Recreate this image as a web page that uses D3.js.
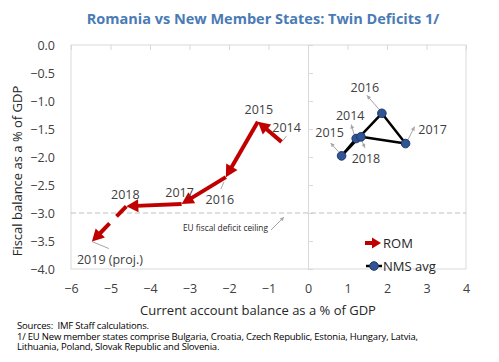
<!DOCTYPE html>
<html>
<head>
<meta charset="utf-8">
<script src="https://cdn.jsdelivr.net/npm/d3@7"></script>
<style>
  html, body { margin: 0; padding: 0; background: #fff; }
  #wrap { position: relative; width: 499px; height: 362px; }
  svg { display: block; }
  text { font-family: "Open Sans", "Noto Sans", sans-serif; }
  #notes { position: absolute; left: 17px; top: 321px; margin: 0;
    font-family: "Open Sans", "Noto Sans", sans-serif; font-size: 9.5px; line-height: 10.7px;
    letter-spacing: -0.2px; white-space: pre; color: #000; }
</style>
</head>
<body>
<div id="wrap">
<svg id="chart" width="499" height="362"></svg>
<div id="notes"></div>
</div>
<script>
// ---------- DATA ----------
const title = "Romania vs New Member States: Twin Deficits 1/";
const xTitle = "Current account balance as a % of GDP";
const yTitle = "Fiscal balance as a % of GDP";
const xTicks = [-6, -5, -4, -3, -2, -1, 0, 1, 2, 3, 4];
const yTicks = [0.0, -0.5, -1.0, -1.5, -2.0, -2.5, -3.0, -3.5, -4.0];

const romYears = ["2014", "2015", "2016", "2017", "2018", "2019 (proj.)"];
const romCA    = [-0.67, -1.27, -2.08, -3.20, -4.60, -5.47];
const romFB    = [-1.73, -1.37, -2.36, -2.84, -2.88, -3.51];

const nmsYears = ["2014", "2015", "2016", "2017", "2018"];
const nmsCA    = [1.22, 0.85, 1.87, 2.47, 1.34];
const nmsFB    = [-1.67, -1.98, -1.22, -1.76, -1.64];

const ceiling = -3.0;
const ceilingLabel = "EU fiscal deficit ceiling";
const seriesNames = ["ROM", "NMS avg"];
const notes = [
  "Sources:  IMF Staff calculations.",
  "1/ EU New member states comprise Bulgaria, Croatia, Czech Republic, Estonia, Hungary, Latvia,",
  "Lithuania, Poland, Slovak Republic and Slovenia."
];

// ---------- LAYOUT / STYLE ----------
const svg = d3.select("#chart");
const plot = { left: 71, right: 466, top: 45, bottom: 269 };
const x = d3.scaleLinear().domain([-6, 4]).range([plot.left, plot.right]);
const y = d3.scaleLinear().domain([-4, 0]).range([plot.bottom, plot.top]);
const RED = "#C00000", GRID = "#d9d9d9", TXT = "#404040", LEAD = "#a6a6a6";

const romLabelOff = [[5, -14], [1, -12], [-6, 22], [-2, -12], [-1, -12], [18, 18]];
const romLeader   = [[[1, -1], [5, -6]], null, [[-2, 5], [-5, 12]], null, null, [[0, 0], [17, 7]]];
const nmsLabelOff = [[-6, -23], [-12, -23], [-17, -26], [27, -14], [5, 22]];
const nmsLeader   = [[[-2, -4], [-5, -14]], [[-3, -4], [-11, -13]], [[-2, -3], [-15, -18]], [[2, -3], [9, -17]], [[1, 4], [4, 11]]];

// ---------- TITLE ----------
svg.append("text").attr("x", 263).attr("y", 24).attr("text-anchor", "middle")
  .attr("font-size", 14.5).attr("font-weight", "bold").attr("fill", "#4a7bb5").text(title);

// ---------- FRAME & AXES ----------
const g = svg.append("g");
g.append("rect").attr("x", plot.left).attr("y", plot.top)
  .attr("width", plot.right - plot.left).attr("height", plot.bottom - plot.top)
  .attr("fill", "none").attr("stroke", GRID).attr("stroke-width", 1);

const xAxisTop = d3.axisBottom(x).tickValues(xTicks).tickSize(5).tickFormat("");
g.append("g").attr("transform", `translate(0,${y(0)})`).call(xAxisTop)
  .call(s => { s.select(".domain").remove(); s.selectAll("line").attr("stroke", GRID); });

const yAxisMid = d3.axisRight(y).tickValues(yTicks).tickSize(5).tickFormat("");
g.append("g").attr("transform", `translate(${x(0)},0)`).call(yAxisMid)
  .call(s => { s.select(".domain").attr("stroke", GRID); s.selectAll("line").attr("stroke", GRID); });

const xLab = d3.axisBottom(x).tickValues(xTicks).tickSize(0).tickFormat(d3.format("d"));
g.append("g").attr("transform", `translate(0,${plot.bottom + 12})`).call(xLab)
  .call(s => { s.select(".domain").remove();
    s.selectAll("text").attr("font-size", 12.5).attr("fill", TXT)
      .attr("font-family", '"Open Sans", sans-serif'); });

const yLab = d3.axisLeft(y).tickValues(yTicks).tickSize(0).tickFormat(d3.format(".1f"));
g.append("g").attr("transform", `translate(${plot.left - 13},0)`).call(yLab)
  .call(s => { s.select(".domain").remove();
    s.selectAll("text").attr("font-size", 12.5).attr("fill", TXT)
      .attr("font-family", '"Open Sans", sans-serif'); });

svg.append("text").attr("x", 258).attr("y", 315).attr("text-anchor", "middle")
  .attr("font-size", 13).attr("fill", "#262626").text(xTitle);
svg.append("text").attr("transform", `translate(22,171) rotate(-90)`).attr("text-anchor", "middle")
  .attr("font-size", 13).attr("fill", "#262626").text(yTitle);

// ---------- EU ceiling ----------
g.append("line").attr("x1", plot.left).attr("x2", plot.right)
  .attr("y1", y(ceiling)).attr("y2", y(ceiling))
  .attr("stroke", "#bfbfbf").attr("stroke-width", 1).attr("stroke-dasharray", "5,3");
svg.append("text").attr("x", 183).attr("y", 230.5).attr("font-size", 9.5)
  .attr("textLength", 85).attr("lengthAdjust", "spacingAndGlyphs")
  .attr("fill", "#262626").text(ceilingLabel);

function arrowHead(sel, x1, y1, x2, y2, len, half, color) {
  const a = Math.atan2(y2 - y1, x2 - x1);
  const bx = x2 - len * Math.cos(a), by = y2 - len * Math.sin(a);
  const px = -Math.sin(a) * half, py = Math.cos(a) * half;
  sel.append("path")
    .attr("d", `M${x2},${y2}L${bx + px},${by + py}L${bx - px},${by - py}Z`)
    .attr("fill", color);
}
function leader(sel, x1, y1, x2, y2, withHead) {
  sel.append("line").attr("x1", x1).attr("y1", y1).attr("x2", x2).attr("y2", y2)
    .attr("stroke", LEAD).attr("stroke-width", 1);
  if (withHead) arrowHead(sel, x1, y1, x2, y2, 4, 2, LEAD);
}

leader(svg, 271, 230, 284, 217, true);

// ---------- ROM arrows ----------
const rom = romYears.map((yr, i) => ({ yr, px: x(romCA[i]), py: y(romFB[i]) }));
const romG = svg.append("g");
rom.forEach((p, i) => {
  const L = romLeader[i];
  if (L) leader(romG, p.px + L[0][0], p.py + L[0][1], p.px + L[1][0], p.py + L[1][1], false);
});
for (let i = 0; i < rom.length - 1; i++) {
  const a = rom[i], b = rom[i + 1];
  const ang = Math.atan2(b.py - a.py, b.px - a.px);
  const hl = 12;
  const ex = b.px - (hl - 2) * Math.cos(ang), ey = b.py - (hl - 2) * Math.sin(ang);
  romG.append("line").attr("x1", a.px).attr("y1", a.py).attr("x2", ex).attr("y2", ey)
    .attr("stroke", RED).attr("stroke-width", 4)
    .attr("stroke-dasharray", i === rom.length - 2 ? "14,10" : null);
  arrowHead(romG, a.px, a.py, b.px, b.py, hl, 6.5, RED);
}
rom.forEach((p, i) => {
  romG.append("text").attr("x", p.px + romLabelOff[i][0]).attr("y", p.py + romLabelOff[i][1])
    .attr("text-anchor", "middle").attr("dominant-baseline", "central")
    .attr("font-size", 12.5).attr("fill", TXT).text(p.yr);
});

// ---------- NMS ----------
const nms = nmsYears.map((yr, i) => ({ yr, px: x(nmsCA[i]), py: y(nmsFB[i]) }));
const nmsG = svg.append("g");
nms.forEach((p, i) => {
  const L = nmsLeader[i];
  leader(nmsG, p.px + L[0][0], p.py + L[0][1], p.px + L[1][0], p.py + L[1][1], true);
});
nmsG.append("path").datum(nms)
  .attr("d", d3.line().x(d => d.px).y(d => d.py))
  .attr("fill", "none").attr("stroke", "#000").attr("stroke-width", 2.5).attr("stroke-linejoin", "round");
nmsG.selectAll("circle").data(nms).join("circle")
  .attr("cx", d => d.px).attr("cy", d => d.py).attr("r", 4.3)
  .attr("fill", "#2f5597").attr("stroke", "#1f3864").attr("stroke-width", 1);
nms.forEach((p, i) => {
  nmsG.append("text").attr("x", p.px + nmsLabelOff[i][0]).attr("y", p.py + nmsLabelOff[i][1])
    .attr("text-anchor", "middle").attr("dominant-baseline", "central")
    .attr("font-size", 12.5).attr("fill", TXT).text(p.yr);
});

// ---------- LEGEND ----------
const lg = svg.append("g");
lg.append("line").attr("x1", 365).attr("x2", 373).attr("y1", 243).attr("y2", 243)
  .attr("stroke", RED).attr("stroke-width", 4);
arrowHead(lg, 365, 243, 381, 243, 9, 5.5, RED);
lg.append("text").attr("x", 383).attr("y", 243).attr("dominant-baseline", "central")
  .attr("font-size", 13).attr("fill", "#262626").text(seriesNames[0]);
lg.append("line").attr("x1", 366).attr("x2", 382).attr("y1", 266).attr("y2", 266)
  .attr("stroke", "#000").attr("stroke-width", 2.5);
lg.append("circle").attr("cx", 374).attr("cy", 266).attr("r", 4.3)
  .attr("fill", "#2f5597").attr("stroke", "#1f3864").attr("stroke-width", 1);
lg.append("text").attr("x", 383).attr("y", 266).attr("dominant-baseline", "central")
  .attr("font-size", 13).attr("fill", "#262626").text(seriesNames[1]);

// ---------- NOTES (one text block) ----------
d3.select("#notes").text(notes.join("\n"));
</script>
</body>
</html>
